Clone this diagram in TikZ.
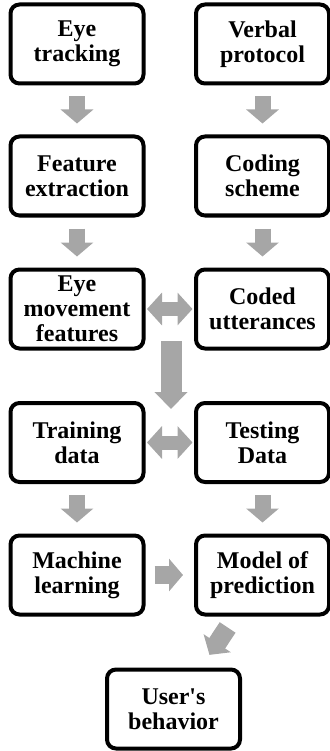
\documentclass[tikz,border=0pt]{standalone}
\usepackage{fontspec}
\setmainfont{Liberation Serif}
\usetikzlibrary{arrows.meta}
\definecolor{arrowgray}{RGB}{166,166,166}

\begin{document}
\begin{tikzpicture}[x=1pt, y=-1pt,
    box/.style={draw, line width=4pt, rounded corners=9pt,
        minimum width=133pt, minimum height=79pt, inner sep=0pt,
        align=center, font=\bfseries\fontsize{24}{25}\selectfont},
    flowarrow/.style={draw=arrowgray, line width=16pt,
        -{Triangle[length=14pt, width=32pt]}},
    botharrow/.style={draw=arrowgray, line width=14pt,
        {Triangle[length=15pt, width=32pt]}-{Triangle[length=15pt, width=32pt]}}]
    \useasboundingbox (0,0) rectangle (329,751);

    \node[box] (eyetrack) at (77, 44) {Eye\\tracking};
    \node[box] (verbal) at (262.5, 44) {Verbal\\protocol};
    \node[box] (featext) at (77, 176) {Feature\\extraction};
    \node[box] (coding) at (262.5, 176) {Coding\\scheme};
    \node[box] (eyemove) at (77, 309) {Eye\\movement\\features};
    \node[box] (coded) at (262.5, 309) {Coded\\utterances};
    \node[box] (training) at (77, 442.5) {Training\\data};
    \node[box] (testing) at (262.5, 442.5) {Testing\\Data};
    \node[box] (machine) at (77, 575) {Machine\\learning};
    \node[box] (model) at (262.5, 575) {Model of\\prediction};
    \node[box] (behavior) at (173.5, 709) {User\textquotesingle s\\behavior};

    \coordinate (split) at (171, 341);
    \coordinate (join) at (171, 409);

    \draw[flowarrow, shorten <=11pt, shorten >=11pt] (eyetrack) -- (featext);
    \draw[flowarrow, shorten <=11pt, shorten >=11pt] (verbal) -- (coding);
    \draw[flowarrow, shorten <=11pt, shorten >=11pt] (featext) -- (eyemove);
    \draw[flowarrow, shorten <=11pt, shorten >=11pt] (coding) -- (coded);
    \draw[botharrow, shorten <=1.5pt, shorten >=1.5pt] (eyemove) -- (coded);
    \draw[flowarrow, line width=21pt,
        -{Triangle[length=17pt, width=32pt]}] (split) -- (join);
    \draw[botharrow, shorten <=1.5pt, shorten >=1.5pt] (training) -- (testing);
    \draw[flowarrow, shorten <=11pt, shorten >=11pt] (training) -- (machine);
    \draw[flowarrow, shorten <=11pt, shorten >=11pt] (testing) -- (model);
    \draw[flowarrow, line width=18pt, shorten <=9pt, shorten >=11pt] (machine) -- (model);
    \draw[flowarrow, line width=19pt, shorten <=63pt, shorten >=65pt]
        (model.center) -- (behavior.center);
\end{tikzpicture}
\end{document}
